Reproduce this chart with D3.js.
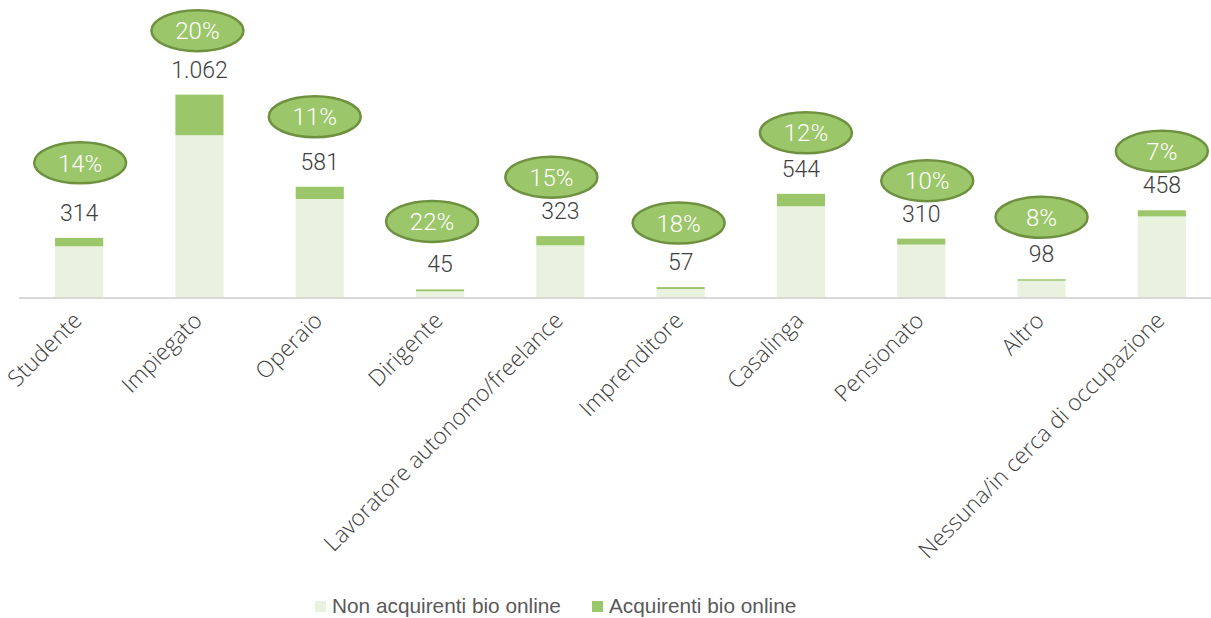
<!DOCTYPE html>
<html>
<head>
<meta charset="utf-8">
<script src="https://cdn.jsdelivr.net/npm/d3@7"></script>
<style>
  body { margin: 0; background: #fff; }
  svg { display: block; }
</style>
</head>
<body>
<div id="chart"></div>
<script>
// Data
const categories = ["Studente", "Impiegato", "Operaio", "Dirigente", "Lavoratore autonomo/freelance",
    "Imprenditore", "Casalinga", "Pensionato", "Altro", "Nessuna/in cerca di occupazione"];
const totals = [314, 1062, 581, 45, 323, 57, 544, 310, 98, 458];
const buyers = [44, 212, 64, 10, 48, 10, 65, 31, 8, 32];
const nonBuyers = [270, 850, 517, 35, 275, 47, 479, 279, 90, 426];
const pctLabels = ["14%", "20%", "11%", "22%", "15%", "18%", "12%", "10%", "8%", "7%"];
const seriesNames = ["Non acquirenti bio online", "Acquirenti bio online"];

// Layout
const w = 1211;
const h = 618;
const base = 298;
const colors = ["#e9f2df", "#9cc66a"];
// hand-placed bubble nudges (like the original data labels)
const bubbleLift = [50, 39, 45, 43, 34, 39, 36, 33, 37, 34];
const bubbleShift = [1, -2, -5, -8, -9, -2, 5, 6, 0, 0];

const svg = d3.select("#chart")
    .append("svg")
    .attr("width", w)
    .attr("height", h);

// Scales
const xScale = d3.scaleBand()
    .domain(categories)
    .range([19, 1222])
    .paddingInner(0.6)
    .paddingOuter(0.3);
const yScale = d3.scaleLinear()
    .domain([0, 1200])
    .range([base, base - 1200 * 0.1915]);

// Stacked bars
const rows = categories.map((c, i) => ({ cat: c, non: nonBuyers[i], buy: buyers[i] }));
const stack = d3.stack().keys(["non", "buy"])(rows);

svg.selectAll("g.layer")
    .data(stack)
    .enter()
    .append("g")
    .attr("class", "layer")
    .attr("fill", (d, i) => colors[i])
    .selectAll("rect")
    .data(d => d)
    .enter()
    .append("rect")
    .attr("x", d => xScale(d.data.cat))
    .attr("y", d => yScale(d[1]))
    .attr("width", xScale.bandwidth())
    .attr("height", d => yScale(d[0]) - yScale(d[1]));

// Axis line
svg.append("line")
    .attr("x1", 19)
    .attr("x2", w)
    .attr("y1", base)
    .attr("y2", base)
    .attr("stroke", "#d9d9d9")
    .attr("stroke-width", 2);

// Category labels
svg.append("g")
    .selectAll("text")
    .data(categories)
    .enter()
    .append("text")
    .attr("transform", d => `translate(${xScale(d) + xScale.bandwidth() / 2 + 4},${base + 24}) rotate(-45)`)
    .attr("text-anchor", "end")
    .attr("font-family", "Open Sans, sans-serif")
    .attr("font-weight", 300)
    .attr("font-size", 22.8)
    .attr("fill", "#404040")
    .text(d => d);

// Total labels
const cx = i => xScale(categories[i]) + xScale.bandwidth() / 2;
const labelY = i => yScale(totals[i]) - 25;

svg.append("g")
    .selectAll("text")
    .data(totals)
    .enter()
    .append("text")
    .attr("x", (d, i) => cx(i))
    .attr("y", (d, i) => labelY(i))
    .attr("dy", "0.35em")
    .attr("text-anchor", "middle")
    .attr("font-family", "Roboto, sans-serif")
    .attr("font-weight", 300)
    .attr("font-size", 23)
    .attr("fill", "#404040")
    .text(d => d3.format(",")(d).replace(/,/g, "."));

// Percentage bubbles
const bubbles = svg.append("g")
    .selectAll("g")
    .data(pctLabels)
    .enter()
    .append("g")
    .attr("transform", (d, i) => `translate(${cx(i) + bubbleShift[i]},${labelY(i) - bubbleLift[i]})`);
bubbles.append("ellipse")
    .attr("rx", 46)
    .attr("ry", 20.5)
    .attr("fill", "#9cc66a")
    .attr("stroke", "#6e9140")
    .attr("stroke-width", 2.5);
bubbles.append("text")
    .attr("dy", "0.36em")
    .attr("text-anchor", "middle")
    .attr("font-family", "Roboto, sans-serif")
    .attr("font-weight", 300)
    .attr("font-size", 24)
    .attr("fill", "#fff")
    .text(d => d);

// Legend
const legendX = [315, 592];
const legend = svg.append("g")
    .selectAll("g")
    .data(seriesNames)
    .enter()
    .append("g")
    .attr("transform", (d, i) => `translate(${legendX[i]},601)`);
legend.append("rect")
    .attr("width", 11)
    .attr("height", 11)
    .attr("fill", (d, i) => colors[i]);
legend.append("text")
    .attr("x", 17)
    .attr("y", 12)
    .attr("font-family", "Liberation Sans, Arial, sans-serif")
    .attr("font-size", 20.8)
    .attr("fill", "#595959")
    .text(d => d);
</script>
</body>
</html>
